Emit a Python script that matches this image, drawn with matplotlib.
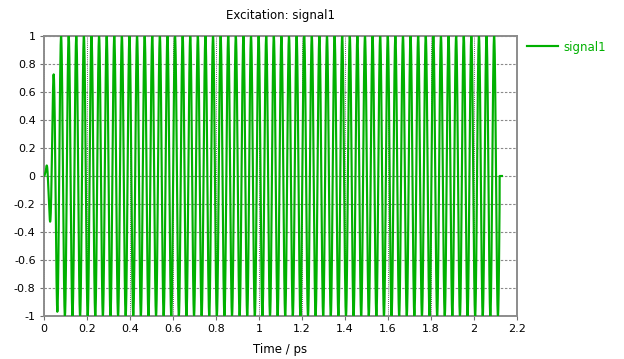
import numpy as np
import matplotlib
matplotlib.use('Agg')
import matplotlib.pyplot as plt

# excitation signal (CST style plot)
carrier_thz = 28.3            # ~57 periods between 0.079 ps and 2.093 ps
t_stop = 2.1193               # signal cut at a zero crossing after last trough
t_tail = 2.13                 # short flat piece at 0 after the cut
ramp_t = [0.0, 0.0088, 0.0265, 0.044, 0.062, 0.079]   # extrema positions at start
ramp_env = [0.0, 0.04, 0.30, 0.72, 0.97, 1.0]          # |extremum| values at start

x_ticks = [0, 0.2, 0.4, 0.6, 0.8, 1.0, 1.2, 1.4, 1.6, 1.8, 2.0, 2.2]
x_labels = ['0', '0.2', '0.4', '0.6', '0.8', '1', '1.2', '1.4', '1.6', '1.8', '2', '2.2']
y_ticks = [-1, -0.8, -0.6, -0.4, -0.2, 0, 0.2, 0.4, 0.6, 0.8, 1]
y_labels = ['-1', '-0.8', '-0.6', '-0.4', '-0.2', '0', '0.2', '0.4', '0.6', '0.8', '1']

GREEN = '#00b000'

t = np.arange(0, t_stop, 0.0005)
env = np.interp(t, ramp_t, ramp_env)
sig = env * np.sin(2 * np.pi * carrier_thz * t)
t = np.append(t, [t_stop, t_tail])
sig = np.append(sig, [0.0, 0.0])

plt.rcParams['font.family'] = 'DejaVu Sans'
fig = plt.figure(figsize=(6.24, 3.59), dpi=100)
ax = fig.add_axes([44 / 624, 1 - 316 / 359, (517 - 44) / 624, (316 - 36) / 359])

ax.plot(t, sig, color=GREEN, lw=1.55, label='signal1', zorder=3)

ax.set_xlim(0, 2.2)
ax.set_ylim(-1, 1)
ax.set_xticks(x_ticks)
ax.set_xticklabels(x_labels)
ax.set_yticks(y_ticks)
ax.set_yticklabels(y_labels)
ax.tick_params(labelsize=8, length=3, width=0.8, color='#707070', pad=3)

# horizontal grid gray dashes, vertical grid black dots
for y in y_ticks:
    ax.axhline(y, color='#8a8a8a', lw=0.8, ls=(0, (2.2, 1.5)), zorder=1)
for x in x_ticks:
    ax.axvline(x, color='#303030', lw=0.6, ls=(0, (1, 1.5)), zorder=1)

for s in ax.spines.values():
    s.set_color('#8c8c8c')
    s.set_linewidth(1.4)

fig.text(280.5 / 624, 1 - 15 / 359, 'Excitation: signal1', ha='center', va='center', fontsize=8.5)
fig.text(280.5 / 624, 1 - 349 / 359, 'Time / ps', ha='center', va='center', fontsize=8.5)

leg = ax.legend(loc='center left', bbox_to_anchor=(527 / 624, 1 - 47 / 359),
                bbox_transform=fig.transFigure, frameon=False, fontsize=8.5,
                handlelength=2.6, handletextpad=0.5, borderaxespad=0, borderpad=0)
for txt in leg.get_texts():
    txt.set_color(GREEN)

plt.savefig('out.png', dpi=100)
